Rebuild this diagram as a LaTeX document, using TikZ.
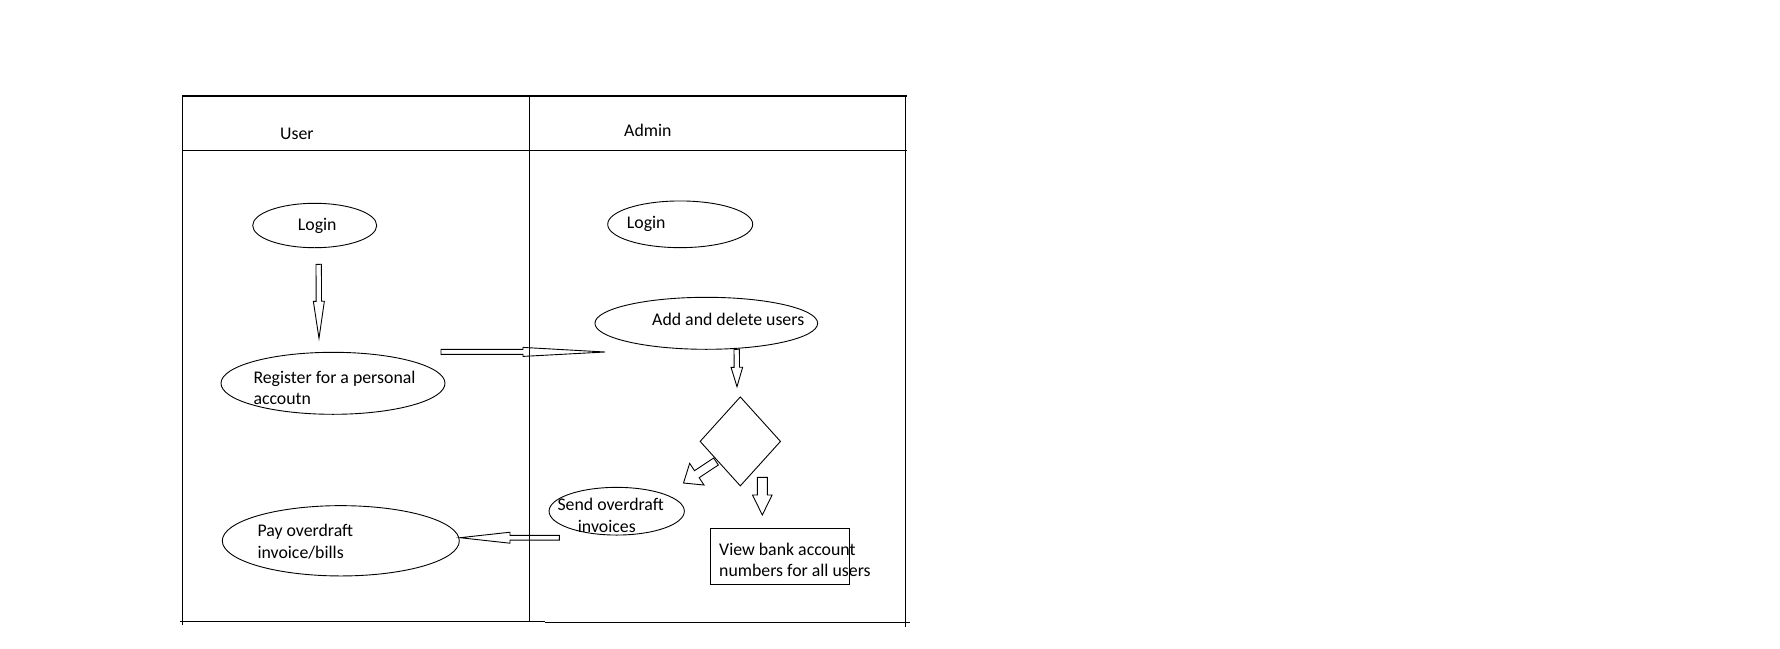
\documentclass[tikz,border=0pt]{standalone}
\usepackage{fontspec}
\setmainfont{Carlito}
\usetikzlibrary{shapes.geometric,calc}
\tikzset{
  frameline/.style={line width=1.2pt, draw=black},
  oval/.style={draw=black, ellipse, line width=0.9pt, inner sep=0pt},
  lbl/.style={anchor=base west, inner sep=0pt, font=\fontsize{17.8}{21}\selectfont},
  barrow/.style={draw=black, line width=0.9pt, line join=miter},
  shapeline/.style={draw=black, line width=0.9pt, inner sep=0pt},
}
\newcommand\blockarr[5]{%
  \coordinate (#1-hb) at ($(#2)!#5!(#1)$);
  \draw[barrow] ($(#1)!#3!90:(#2)$) -- ($(#1-hb)!#3!90:(#2)$) -- ($(#1-hb)!#4!90:(#2)$) -- (#2)
     -- ($(#1-hb)!#4!-90:(#2)$) -- ($(#1-hb)!#3!-90:(#2)$) -- ($(#1)!#3!-90:(#2)$) -- cycle;
}
\begin{document}
\begin{tikzpicture}[x=1pt,y=-1pt]
\useasboundingbox[fill=white] (0,0) rectangle (1780,648);
% frame of the swimlanes
\draw[frameline] (182.3,96) -- (906.7,96);
\draw[frameline] (182.3,150.3) -- (906.7,150.3);
\draw[frameline] (182.3,96) -- (182.3,624.5);
\draw[frameline] (529.7,96) -- (529.7,621.7);
\draw[frameline] (905.7,96) -- (905.7,627);
\draw[frameline] (180,621.7) -- (545,621.7);
\draw[frameline] (545,622.7) -- (910,622.7);
% lane headers
\node[lbl] (hUser) at (280,139) {User};
\node[lbl] (hAdmin) at (624,136.7) {Admin};
% user lane
\node[oval, minimum width=124pt, minimum height=44.4pt] (uLogin) at (314.7,225.5) {};
\node[lbl] (tuLogin) at (297.7,230.7) {Login};
\node[oval, minimum width=224pt, minimum height=62pt] (reg) at (333,383.3) {};
\node[lbl] (treg1) at (253.3,383.3) {Register for a personal};
\node[lbl] (treg2) at (253.3,404) {accoutn};
\node[oval, minimum width=237pt, minimum height=70.3pt] (pay) at (340.8,540.8) {};
\node[lbl] (tpay1) at (257.3,536.7) {Pay overdraft};
\node[lbl] (tpay2) at (257.3,558.3) {invoice/bills};
% admin lane
\node[oval, minimum width=145pt, minimum height=46.7pt] (aLogin) at (680.2,224.3) {};
\node[lbl] (taLogin) at (626.7,228.3) {Login};
\node[oval, minimum width=222.7pt, minimum height=52pt] (adddel) at (706.3,323.3) {};
\node[lbl] (tadd) at (652,325.7) {Add and delete users};
\node[diamond, shapeline, minimum width=80.7pt, minimum height=89.3pt] (dec) at (740.3,441.4) {};
\node[oval, minimum width=135.3pt, minimum height=47.7pt] (send) at (616.7,511.2) {};
\node[lbl] (tsend1) at (557.3,510.7) {Send overdraft};
\node[lbl] (tsend2) at (577.7,532.3) {invoices};
\node[rectangle, shapeline, minimum width=139.4pt, minimum height=55.7pt] (view) at (780,556.2) {};
\node[lbl] (tview1) at (719,555) {View bank account};
\node[lbl] (tview2) at (719,576.7) {numbers for all users};
% block arrows
\coordinate (a1s) at (318.7,264.3); \coordinate (a1t) at (319,338.3);
\blockarr{a1s}{a1t}{2.7pt}{5.5pt}{37pt}
\coordinate (a2s) at (441,351.8); \coordinate (a2t) at (605,352);
\blockarr{a2s}{a2t}{2.5pt}{4.5pt}{82pt}
\coordinate (a3s) at (736.7,349.3); \coordinate (a3t) at (737,386.7);
\blockarr{a3s}{a3t}{2.7pt}{5.8pt}{19.4pt}
\coordinate (a4s) at (716,461.5); \coordinate (a4t) at (683.5,483);
\blockarr{a4s}{a4t}{4.2pt}{13pt}{16pt}
\coordinate (a5s) at (762.3,477.3); \coordinate (a5t) at (762.3,515);
\blockarr{a5s}{a5t}{5pt}{9.8pt}{20pt}
\coordinate (a6s) at (559.3,537.7); \coordinate (a6t) at (460,537.7);
\blockarr{a6s}{a6t}{2.35pt}{5.5pt}{50pt}
\end{tikzpicture}
\end{document}
